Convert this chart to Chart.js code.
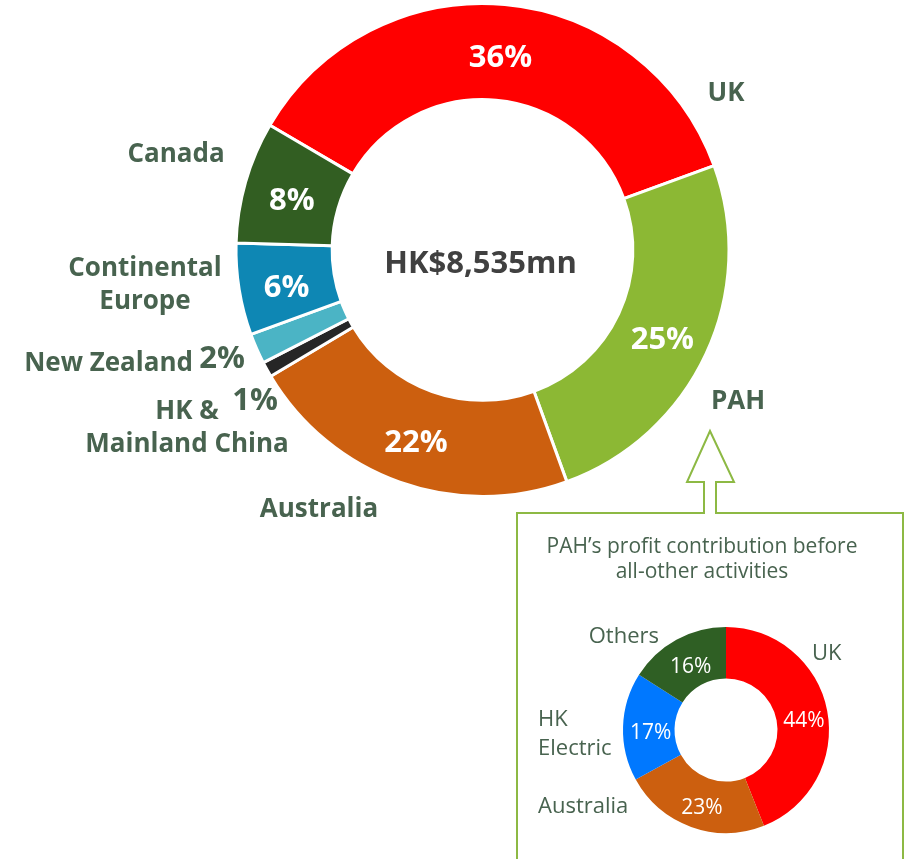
<!DOCTYPE html>
<html>
<head>
<meta charset="utf-8">
<script src="https://cdn.jsdelivr.net/npm/chart.js@4"></script>
<style>
  body { margin: 0; background: #fff; }
  #wrap { position: relative; width: 904px; height: 859px; overflow: hidden; }
  #wrap canvas { position: absolute; left: 0; top: 0; }
</style>
</head>
<body>
<div id="wrap">
  <canvas id="mainChart" width="904" height="859"></canvas>
  <canvas id="pahChart" width="904" height="859"></canvas>
</div>
<script>
// group profit contribution by region
const mainLabels = ['UK', 'PAH', 'Australia', 'HK & Mainland China', 'New Zealand', 'Continental Europe', 'Canada'];
const mainValues = [36, 25, 22, 1, 2, 6, 8];
const mainColors = ['#FF0000', '#8CB834', '#CC5F0F', '#262626', '#4BB4C5', '#0E87B4', '#325E22'];
const totalText = 'HK$8,535mn';

// PAH breakdown
const pahTitle = ['PAH\u2019s profit contribution before', 'all-other activities'];
const pahLabels = ['UK', 'Australia', 'HK Electric', 'Others'];
const pahValues = [44, 23, 17, 16];
const pahColors = ['#FF0000', '#CC5F0F', '#0078FF', '#2F5F24'];

const FONT = '"Open Sans", "Noto Sans", sans-serif';
const TEXT = '#48634F';

// where the category names sit (text placement only)
const mainNamePos = [
  { lines: ['UK'], x: 726, y: 94, align: 'center' },
  { lines: ['PAH'], x: 738, y: 402, align: 'center' },
  { lines: ['Australia'], x: 319, y: 510, align: 'center' },
  { lines: ['HK &', 'Mainland China'], x: 187, y: 412, align: 'center', pct: { x: 255, y: 401 } },
  { lines: ['New Zealand'], x: 193, y: 364, align: 'right', pct: { x: 222, y: 359 } },
  { lines: ['Continental', 'Europe'], x: 145, y: 269, align: 'center' },
  { lines: ['Canada'], x: 176, y: 155, align: 'center' }
];

const pahNamePos = [
  { lines: ['UK'], x: 812, y: 654, align: 'left' },
  { lines: ['Australia'], x: 538, y: 807, align: 'left' },
  { lines: ['HK', 'Electric'], x: 538, y: 720, align: 'left' },
  { lines: ['Others'], x: 659, y: 637, align: 'right' }
];

function drawLines(ctx, lines, x, y, lh) {
  lines.forEach((t, i) => ctx.fillText(t, x, y + i * lh));
}

const mainText = {
  id: 'mainText',
  afterDraw(chart) {
    const ctx = chart.ctx;
    const arcs = chart.getDatasetMeta(0).data;
    ctx.save();
    ctx.textBaseline = 'middle';
    arcs.forEach((arc, i) => {
      const p = mainNamePos[i];
      ctx.fillStyle = TEXT;
      ctx.font = 'bold 26px ' + FONT;
      ctx.textAlign = p.align;
      drawLines(ctx, p.lines, p.x, p.y, 33);
      const pct = mainValues[i] + '%';
      if (p.pct) {
        ctx.font = 'bold 31px ' + FONT;
        ctx.textAlign = 'center';
        ctx.fillText(pct, p.pct.x, p.pct.y);
      } else {
        const c = arc.tooltipPosition();
        ctx.fillStyle = '#fff';
        ctx.font = 'bold 31px ' + FONT;
        ctx.textAlign = 'center';
        ctx.fillText(pct, c.x, c.y + 6);
      }
    });
    const a = arcs[0];
    ctx.fillStyle = '#404040';
    ctx.font = 'bold 31px ' + FONT;
    ctx.textAlign = 'center';
    ctx.fillText(totalText, a.x - 2, a.y + 14);
    ctx.restore();
  }
};

new Chart(document.getElementById('mainChart'), {
  type: 'doughnut',
  data: {
    labels: mainLabels,
    datasets: [{
      data: mainValues,
      backgroundColor: mainColors,
      borderColor: '#fff',
      borderWidth: 3
    }]
  },
  options: {
    responsive: false,
    animation: false,
    rotation: -59.6,
    cutout: '61%',
    layout: { padding: { left: 234, top: 2, right: 173, bottom: 361 } },
    plugins: { legend: { display: false }, tooltip: { enabled: false } }
  },
  plugins: [mainText]
});

const pahBox = {
  id: 'pahBox',
  beforeDraw(chart) {
    const ctx = chart.ctx;
    ctx.save();
    ctx.strokeStyle = '#8DB944';
    ctx.lineWidth = 2;
    ctx.beginPath();
    ctx.moveTo(517, 870);
    ctx.lineTo(517, 513);
    ctx.lineTo(704, 513);
    ctx.lineTo(704, 482);
    ctx.lineTo(687, 482);
    ctx.lineTo(710, 431);
    ctx.lineTo(734, 482);
    ctx.lineTo(716, 482);
    ctx.lineTo(716, 513);
    ctx.lineTo(903, 513);
    ctx.lineTo(903, 870);
    ctx.stroke();
    ctx.fillStyle = TEXT;
    ctx.font = '21px ' + FONT;
    ctx.textAlign = 'center';
    ctx.textBaseline = 'middle';
    drawLines(ctx, pahTitle, 702, 547, 25);
    ctx.restore();
  },
  afterDraw(chart) {
    const ctx = chart.ctx;
    const arcs = chart.getDatasetMeta(0).data;
    ctx.save();
    ctx.textBaseline = 'middle';
    arcs.forEach((arc, i) => {
      const p = pahNamePos[i];
      ctx.fillStyle = TEXT;
      ctx.font = '22px ' + FONT;
      ctx.textAlign = p.align;
      drawLines(ctx, p.lines, p.x, p.y, 29);
      const c = arc.tooltipPosition();
      ctx.fillStyle = '#fff';
      ctx.font = '21px ' + FONT;
      ctx.textAlign = 'center';
      ctx.fillText(pahValues[i] + '%', c.x + 2, c.y + 5);
    });
    ctx.restore();
  }
};

new Chart(document.getElementById('pahChart'), {
  type: 'doughnut',
  data: {
    labels: pahLabels,
    datasets: [{
      data: pahValues,
      backgroundColor: pahColors,
      borderWidth: 0
    }]
  },
  options: {
    responsive: false,
    animation: false,
    rotation: 0,
    cutout: '50%',
    layout: { padding: { left: 623, top: 627, right: 75, bottom: 26 } },
    plugins: { legend: { display: false }, tooltip: { enabled: false } }
  },
  plugins: [pahBox]
});
</script>
</body>
</html>
